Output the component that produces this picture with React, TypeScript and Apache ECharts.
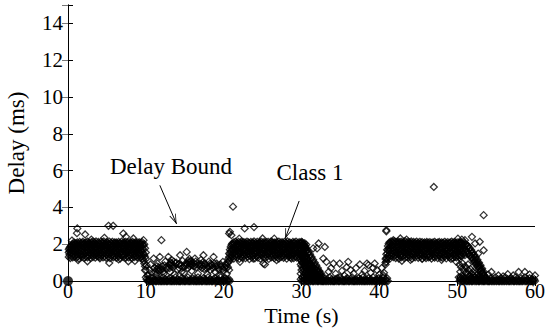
import React, { useEffect, useRef } from 'react';
import * as echarts from 'echarts';

// ---------- axes ----------
const xTickValues = [0, 10, 20, 30, 40, 50, 60];
const yTickValues = [0, 2, 4, 6, 8, 10, 12, 14];
const Y_MAX = 15;
const DELAY_BOUND = 3;

// ---------- sampled delay values (step 0.1 s) ----------
const STEP = 0.1;

const BAND_A_T0 = 0.1;
const bandAHi = [
  1.72, 1.8, 1.86, 1.92, 1.97, 2.03, 1.95, 2.08, 2.0, 2.05,
  1.98, 2.1, 2.02, 1.94, 2.12, 2.04, 1.97, 2.07, 2.13, 2.0,
  2.06, 1.95, 2.1, 2.01, 2.14, 1.99, 2.08, 2.03, 1.94, 2.11,
  2.05, 2.14, 1.98, 2.09, 2.02, 2.15, 2.0, 1.96, 2.12, 2.06,
  2.01, 2.13, 1.97, 2.1, 2.04, 2.15, 1.99, 2.07, 1.95, 2.11,
  2.06, 2.0, 2.14, 1.97, 2.09, 2.03, 2.13, 1.96, 2.05, 2.1,
  2.0, 2.1, 2.04, 1.96, 2.12, 2.02, 2.08, 1.99, 2.14, 2.05,
  1.97, 2.09, 2.02, 2.13, 1.95, 2.07, 2.11, 2.0, 2.04, 1.96,
  2.1, 2.03, 2.12, 1.97, 2.07, 2.0, 2.11, 2.04, 1.94, 2.09,
  2.02, 2.1, 1.96, 2.05, 2.12, 1.98, 1.92, 2.0, 1.78, 1.55,
];
const bandAMid = [
  1.55, 1.62, 1.7, 1.58, 1.75, 1.66, 1.82, 1.6, 1.77, 1.69,
  1.85, 1.63, 1.74, 1.88, 1.67, 1.8, 1.61, 1.78, 1.7, 1.86,
  1.64, 1.79, 1.9, 1.68, 1.83, 1.6, 1.76, 1.87, 1.65, 1.81,
  1.72, 1.89, 1.62, 1.77, 1.84, 1.66, 1.8, 1.7, 1.88, 1.63,
  1.78, 1.67, 1.85, 1.61, 1.74, 1.9, 1.69, 1.82, 1.64, 1.79,
  1.87, 1.62, 1.76, 1.7, 1.84, 1.65, 1.89, 1.73, 1.6, 1.81,
  1.68, 1.86, 1.63, 1.78, 1.71, 1.9, 1.66, 1.83, 1.61, 1.75,
  1.88, 1.64, 1.8, 1.69, 1.85, 1.62, 1.77, 1.72, 1.87, 1.65,
  1.82, 1.7, 1.6, 1.79, 1.67, 1.89, 1.74, 1.63, 1.84, 1.71,
  1.6, 1.8, 1.68, 1.86, 1.62, 1.75, 1.5, 1.4, 1.3, 1.2,
];
const bandALo = [
  1.3, 1.42, 1.25, 1.5, 1.36, 1.28, 1.45, 1.33, 1.55, 1.4,
  1.27, 1.48, 1.35, 1.22, 1.52, 1.38, 1.44, 1.3, 1.56, 1.41,
  1.25, 1.47, 1.33, 1.54, 1.29, 1.43, 1.37, 1.51, 1.24, 1.46,
  1.39, 1.3, 1.53, 1.42, 1.27, 1.49, 1.35, 1.55, 1.32, 1.45,
  1.23, 1.5, 1.38, 1.44, 1.28, 1.54, 1.34, 1.47, 1.26, 1.41,
  1.52, 1.31, 1.46, 1.24, 1.55, 1.37, 1.43, 1.29, 1.5, 1.35,
  1.45, 1.26, 1.53, 1.39, 1.32, 1.48, 1.22, 1.55, 1.36, 1.42,
  1.3, 1.51, 1.4, 1.25, 1.47, 1.34, 1.55, 1.28, 1.44, 1.37,
  1.49, 1.23, 1.41, 1.54, 1.3, 1.46, 1.35, 1.52, 1.27, 1.43,
  1.38, 1.5, 1.26, 1.44, 1.32, 1.2, 1.1, 0.95, 0.8, 0.6,
];

const BAND_C_T0 = 20.7;
const bandCHi = [
  1.5, 1.7, 1.85, 1.95, 2.04, 1.98, 2.1, 2.02, 2.13, 1.96,
  2.07, 2.0, 2.12, 1.95, 2.09, 2.03, 2.15, 1.98, 2.06, 2.11,
  1.97, 2.08, 2.02, 2.14, 1.99, 2.1, 2.05, 1.94, 2.12, 2.01,
  2.09, 2.04, 2.15, 1.96, 2.07, 2.0, 2.13, 2.03, 1.97, 2.1,
  2.05, 2.14, 1.99, 2.08, 2.02, 2.12, 1.95, 2.06, 2.11, 2.0,
  2.13, 1.98, 2.07, 2.03, 2.15, 1.97, 2.1, 2.01, 2.09, 2.04,
  1.96, 2.12, 2.05, 1.99, 2.14, 2.02, 2.08, 1.95, 2.11, 2.06,
  2.0, 2.13, 1.97, 2.09, 2.03, 2.15, 1.98, 2.07, 2.1, 2.01,
  2.05, 1.96, 2.12, 2.04, 2.09, 1.99, 2.14, 2.02, 2.07, 1.97,
  2.11, 2.03, 2.08, 1.95, 2.1, 2.02, 1.96, 2.05, 1.9, 1.98,
];
const bandCMid = [
  1.3, 1.45, 1.58, 1.66, 1.8, 1.7, 1.86, 1.62, 1.77, 1.88,
  1.65, 1.82, 1.7, 1.89, 1.61, 1.76, 1.84, 1.67, 1.9, 1.73,
  1.63, 1.8, 1.68, 1.87, 1.6, 1.78, 1.72, 1.85, 1.64, 1.81,
  1.9, 1.66, 1.75, 1.83, 1.62, 1.79, 1.69, 1.88, 1.64, 1.76,
  1.84, 1.61, 1.73, 1.89, 1.67, 1.8, 1.7, 1.86, 1.63, 1.78,
  1.68, 1.87, 1.6, 1.82, 1.74, 1.9, 1.65, 1.77, 1.85, 1.62,
  1.79, 1.7, 1.88, 1.64, 1.81, 1.67, 1.86, 1.61, 1.75, 1.89,
  1.66, 1.83, 1.72, 1.6, 1.8, 1.69, 1.87, 1.63, 1.78, 1.74,
  1.85, 1.62, 1.9, 1.68, 1.76, 1.83, 1.65, 1.8, 1.71, 1.88,
  1.64, 1.79, 1.7, 1.86, 1.61, 1.77, 1.82, 1.66, 1.74, 1.8,
];
const bandCLo = [
  1.05, 1.15, 1.25, 1.38, 1.3, 1.47, 1.22, 1.52, 1.35, 1.43,
  1.28, 1.55, 1.4, 1.2, 1.48, 1.33, 1.53, 1.26, 1.45, 1.37,
  1.5, 1.24, 1.42, 1.55, 1.31, 1.46, 1.19, 1.39, 1.54, 1.29,
  1.44, 1.36, 1.51, 1.23, 1.47, 1.34, 1.55, 1.27, 1.41, 1.5,
  1.21, 1.45, 1.38, 1.53, 1.3, 1.48, 1.25, 1.42, 1.55, 1.33,
  1.46, 1.2, 1.51, 1.37, 1.28, 1.49, 1.4, 1.54, 1.24, 1.43,
  1.35, 1.52, 1.29, 1.47, 1.22, 1.44, 1.55, 1.31, 1.39, 1.5,
  1.26, 1.45, 1.36, 1.53, 1.21, 1.48, 1.33, 1.41, 1.54, 1.28,
  1.43, 1.37, 1.5, 1.24, 1.46, 1.32, 1.55, 1.27, 1.4, 1.49,
  1.23, 1.44, 1.35, 1.52, 1.3, 1.47, 1.38, 1.25, 1.42, 1.35,
];

const BAND_E_T0 = 40.8;
const bandEHi = [
  1.2, 1.45, 1.7, 1.9, 2.02, 2.1, 2.05, 2.15, 1.98, 2.12,
  2.06, 2.16, 2.0, 2.13, 2.08, 1.97, 2.15, 2.04, 2.11, 2.0,
  2.14, 2.07, 1.99, 2.12, 2.05, 2.16, 2.01, 2.09, 1.96, 2.13,
  2.04, 2.1, 2.0, 2.15, 2.06, 1.98, 2.12, 2.03, 2.09, 1.97,
  2.14, 2.02, 2.08, 2.0, 2.13, 1.96, 2.07, 2.11, 1.99, 2.05,
  2.1, 1.97, 2.06, 2.12, 2.0, 2.08, 1.95, 2.11, 2.03, 2.07,
  1.98, 2.1, 2.02, 2.13, 1.96, 2.06, 2.01, 2.09, 1.95, 2.12,
  2.04, 1.99, 2.1, 2.03, 2.08, 1.96, 2.13, 2.0, 2.07, 2.02,
  2.11, 1.97, 2.05, 2.1, 1.99, 2.14, 2.03, 2.08, 1.98, 2.12,
  2.05, 2.0, 2.1, 1.96, 2.07, 2.03, 2.1, 2.0,
];
const bandEMid = [
  1.0, 1.25, 1.5, 1.66, 1.78, 1.65, 1.84, 1.72, 1.9, 1.63,
  1.8, 1.69, 1.87, 1.61, 1.76, 1.85, 1.67, 1.9, 1.73, 1.62,
  1.82, 1.7, 1.88, 1.64, 1.79, 1.6, 1.86, 1.74, 1.68, 1.83,
  1.62, 1.89, 1.71, 1.77, 1.65, 1.84, 1.6, 1.8, 1.73, 1.87,
  1.66, 1.78, 1.9, 1.63, 1.75, 1.85, 1.69, 1.81, 1.61, 1.88,
  1.72, 1.64, 1.83, 1.76, 1.9, 1.67, 1.79, 1.62, 1.86, 1.7,
  1.8, 1.65, 1.88, 1.74, 1.61, 1.84, 1.69, 1.9, 1.63, 1.77,
  1.85, 1.71, 1.66, 1.82, 1.6, 1.87, 1.75, 1.68, 1.83, 1.64,
  1.89, 1.72, 1.78, 1.62, 1.86, 1.7, 1.8, 1.65, 1.84, 1.73,
  1.67, 1.88, 1.61, 1.79, 1.75, 1.85, 1.7, 1.8,
];
const bandELo = [
  0.9, 1.05, 1.2, 1.35, 1.28, 1.44, 1.23, 1.5, 1.36, 1.47,
  1.3, 1.55, 1.4, 1.25, 1.52, 1.34, 1.46, 1.22, 1.53, 1.39,
  1.29, 1.48, 1.35, 1.55, 1.24, 1.43, 1.51, 1.32, 1.45, 1.27,
  1.54, 1.38, 1.3, 1.49, 1.21, 1.44, 1.36, 1.53, 1.28, 1.47,
  1.4, 1.55, 1.26, 1.42, 1.5, 1.33, 1.45, 1.23, 1.52, 1.37,
  1.31, 1.48, 1.25, 1.54, 1.4, 1.29, 1.46, 1.35, 1.55, 1.22,
  1.43, 1.5, 1.33, 1.27, 1.49, 1.38, 1.53, 1.24, 1.44, 1.36,
  1.51, 1.3, 1.47, 1.26, 1.55, 1.41, 1.32, 1.48, 1.23, 1.45,
  1.37, 1.52, 1.29, 1.46, 1.34, 1.54, 1.25, 1.42, 1.5, 1.31,
  1.44, 1.28, 1.53, 1.36, 1.47, 1.3, 1.4, 1.35,
];

// near-zero delays in the idle periods
const ZERO_B_T0 = 10.0;
const zeroB = [
  0.2, 0.1, 0, 0, 0.1, 0, 0, 0.2, 0, 0,
  0, 0.1, 0, 0, 0, 0.15, 0, 0, 0.1, 0,
  0, 0, 0.2, 0, 0, 0.1, 0, 0, 0, 0.1,
  0, 0.15, 0, 0, 0, 0.1, 0, 0, 0.2, 0,
  0, 0.1, 0, 0, 0, 0, 0.15, 0, 0.1, 0,
  0, 0, 0.1, 0, 0.2, 0, 0, 0, 0.1, 0,
  0.15, 0, 0, 0.1, 0, 0, 0, 0.2, 0, 0,
  0.1, 0, 0, 0, 0.15, 0, 0.1, 0, 0, 0,
  0.2, 0, 0, 0.1, 0, 0, 0, 0.1, 0, 0.15,
  0, 0, 0, 0.1, 0, 0, 0.2, 0, 0, 0.1,
  0, 0, 0.15, 0, 0.1, 0, 0, 0.1, 0,
];
const ZERO_D_T0 = 29.9;
const zeroD = [
  0.1, 0, 0.2, 0, 0, 0.1, 0, 0.15, 0, 0,
  0, 0.2, 0, 0, 0.1, 0, 0, 0, 0.15, 0,
  0.1, 0, 0, 0, 0.2, 0, 0.1, 0, 0, 0,
  0, 0.15, 0, 0, 0.1, 0, 0, 0.2, 0, 0,
  0.1, 0, 0, 0, 0, 0.1, 0, 0.15, 0, 0,
  0, 0.2, 0, 0.1, 0, 0, 0, 0, 0.1, 0,
  0.15, 0, 0, 0, 0.1, 0, 0.2, 0, 0, 0,
  0, 0.1, 0, 0, 0.15, 0, 0, 0.1, 0, 0,
  0.2, 0, 0, 0, 0.1, 0, 0, 0.15, 0, 0,
  0.1, 0, 0, 0.2, 0, 0, 0, 0.1, 0, 0,
  0.15, 0, 0, 0.1, 0, 0, 0.2, 0, 0, 0.1,
  0, 0.15, 0,
];
const ZERO_F_T0 = 50.2;
const zeroF = [
  0.2, 0, 0.1, 0, 0.15, 0, 0, 0.1, 0, 0.2,
  0, 0, 0.1, 0, 0, 0.15, 0, 0, 0, 0.1,
  0, 0.2, 0, 0, 0.1, 0, 0, 0, 0.15, 0,
  0.1, 0, 0, 0, 0.2, 0, 0.1, 0, 0, 0,
  0, 0.15, 0, 0, 0.1, 0, 0, 0.2, 0, 0,
  0.1, 0, 0, 0, 0.15, 0, 0, 0.1, 0, 0,
  0.2, 0, 0, 0.1, 0, 0, 0, 0.15, 0, 0.1,
  0, 0, 0, 0.2, 0, 0, 0.1, 0, 0, 0,
  0.15, 0, 0, 0.1, 0, 0.2, 0, 0, 0.1, 0,
  0, 0.15, 0, 0, 0.1, 0, 0, 0.1, 0,
];

// decay after the second burst (t = 29.9 .. 32.6)
const WEDGE_CD_T0 = 29.9;
const wedgeCD1 = [2.05, 1.92, 2.0, 1.84, 1.9, 1.76, 1.8, 1.62, 1.7, 1.52, 1.58, 1.38, 1.45, 1.25, 1.3, 1.08, 1.15, 0.92, 1.0, 0.78, 0.85, 0.62, 0.7, 0.5, 0.55, 0.38, 0.42, 0.25];
const wedgeCD2 = [1.5, 1.3, 1.62, 1.2, 1.45, 1.1, 1.35, 1.0, 1.25, 0.95, 1.1, 0.85, 0.98, 0.7, 0.88, 0.62, 0.75, 0.55, 0.68, 0.45, 0.58, 0.35, 0.48, 0.3, 0.38, 0.2, 0.3, 0.15];
const wedgeCD3 = [0.9, 0.6, 1.0, 0.5, 0.8, 0.4, 0.7, 0.55, 0.3, 0.65, 0.45, 0.25, 0.5, 0.35, 0.2, 0.42, 0.3, 0.15, 0.35, 0.22, 0.1, 0.28, 0.15, 0.2, 0.1, 0.18, 0.05, 0.1];
const wedgeCD4 = [0.4, 1.1, 0.2, 0.95, 0.3, 0.85, 0.15, 0.75, 0.6, 0.2, 0.8, 0.55, 0.3, 0.6, 0.45, 0.25, 0.5, 0.35, 0.2, 0.4, 0.3, 0.12, 0.25, 0.1, 0.2, 0.08, 0.15, 0.05];
const wedgeCD5 = [1.2, 0.8, 1.4, 0.65, 1.15, 0.95, 0.5, 1.05, 0.85, 0.4, 0.7, 0.95, 0.6, 0.35, 0.55, 0.7, 0.4, 0.25, 0.45, 0.3, 0.2, 0.35, 0.15, 0.25, 0.1, 0.15, 0.05, 0.08];

// decay after the third burst (t = 50.3 .. 53.6)
const WEDGE_EF_T0 = 50.3;
const wedgeEF1 = [2.05, 1.92, 2.1, 1.98, 2.04, 1.9, 2.08, 1.95, 2.0, 1.98, 1.88, 1.9, 1.75, 1.8, 1.62, 1.68, 1.5, 1.55, 1.38, 1.42, 1.25, 1.3, 1.1, 1.15, 0.95, 1.0, 0.8, 0.85, 0.62, 0.68, 0.45, 0.5, 0.3, 0.18];
const wedgeEF2 = [1.6, 1.45, 1.75, 1.35, 1.65, 1.5, 1.8, 1.4, 1.7, 1.55, 1.62, 1.48, 1.5, 1.38, 1.42, 1.28, 1.3, 1.15, 1.2, 1.02, 1.08, 0.9, 0.95, 0.78, 0.82, 0.65, 0.7, 0.52, 0.55, 0.4, 0.42, 0.28, 0.3, 0.15];
const wedgeEF3 = [0.9, 0.5, 0.75, 0.3, 0.95, 0.6, 0.2, 0.8, 0.45, 0.7, 0.35, 0.9, 0.55, 0.25, 0.65, 0.4, 0.15, 0.5, 0.3, 0.2, 0.4, 0.1, 0.3, 0.15, 0.25, 0.05, 0.2, 0.1, 0.15, 0.05, 0.12, 0.08, 0.05, 0.1];

// isolated samples [time (s), delay (ms)]
const scatterA: number[][] = [
  [0.5, 2.2], [1.15, 2.6], [1.2, 2.86], [1.3, 1.13], [2.2, 2.53], [2.5, 1.07], [3.0, 2.25],
  [4.1, 1.3], [4.67, 2.35], [5.2, 3.0], [5.3, 0.98], [5.8, 3.0], [6.5, 1.17], [7.1, 2.58],
  [7.45, 2.4], [7.75, 1.07], [8.4, 2.31], [8.6, 1.09], [9.7, 2.22], [9.9, 0.58], [10.1, 0.85], [10.2, 0.3],
];
const scatterB: number[][] = [
  [10.3, 0.3], [10.5, 0.6], [10.6, 0.9], [10.8, 0.45], [11.0, 1.22], [11.1, 0.7], [11.3, 0.35], [11.4, 0.8],
  [11.5, 0.95], [11.6, 0.6], [11.7, 0.55], [11.8, 1.31], [12.0, 2.22], [12.1, 0.8], [12.2, 0.5], [12.3, 0.4],
  [12.5, 1.05], [12.6, 0.75], [12.7, 0.65], [12.9, 1.31], [13.0, 0.9], [13.1, 0.5], [13.2, 1.0], [13.3, 1.15],
  [13.4, 0.8], [13.5, 0.75], [13.7, 0.35], [13.8, 0.95], [13.9, 1.0], [14.1, 0.6], [14.2, 0.9], [14.4, 1.4],
  [14.5, 0.85], [14.6, 0.5], [14.7, 1.1], [14.9, 0.45], [15.0, 0.8], [15.1, 0.95], [15.25, 1.58], [15.4, 0.7],
  [15.5, 1.0], [15.6, 1.2], [15.7, 0.9], [15.8, 1.05], [15.9, 0.55], [16.1, 1.0], [16.2, 0.8], [16.3, 1.22],
  [16.5, 0.75], [16.7, 0.4], [16.8, 0.85], [16.9, 0.95], [17.1, 1.15], [17.2, 0.7], [17.4, 1.4], [17.5, 0.65],
  [17.6, 0.95], [17.7, 0.9], [17.9, 0.35], [18.0, 0.75], [18.1, 1.05], [18.3, 0.6], [18.4, 0.9], [18.5, 0.85],
  [18.7, 1.31], [18.9, 0.5], [19.0, 0.8], [19.1, 0.95], [19.3, 0.7], [19.5, 0.3], [19.6, 0.9], [19.7, 0.8],
  [19.9, 1.04], [20.0, 0.55], [20.2, 0.9], [20.3, 0.7], [20.4, 0.4], [20.5, 1.0], [20.6, 1.2], [20.7, 0.6],
];
const scatterB2: number[][] = [
  [11.2, 0.5], [11.45, 0.65], [11.65, 0.75], [11.9, 0.6], [12.15, 0.65], [12.4, 0.85], [13.05, 0.7],
  [13.15, 0.85], [13.25, 0.95], [13.45, 0.9], [13.6, 1.05], [14.3, 0.7], [14.35, 0.95], [14.8, 0.75],
  [15.15, 0.85], [15.35, 0.9], [15.45, 1.1], [15.65, 0.8], [15.75, 1.1], [15.85, 0.95], [16.0, 0.85],
  [16.4, 1.05], [16.45, 0.9], [17.0, 0.8], [17.15, 0.9], [17.3, 1.0], [17.45, 0.8], [17.8, 0.7],
  [18.2, 0.8], [18.25, 0.95], [18.6, 0.7], [18.8, 0.95], [19.2, 0.85], [19.4, 0.6], [19.8, 0.65],
  [20.1, 0.75], [20.35, 0.85], [20.55, 0.75],
];
const scatterC: number[][] = [
  [20.7, 2.58], [20.8, 2.67], [21.0, 2.49], [21.2, 4.04], [22.0, 2.3], [22.1, 1.04], [22.7, 2.86],
  [23.8, 1.22], [23.9, 2.93], [25.0, 2.31], [25.1, 0.95], [25.3, 0.9], [26.5, 2.3], [26.8, 1.13],
  [28.7, 1.22], [30.0, 2.13], [31.5, 1.77], [32.0, 1.77], [32.2, 2.04],
];
const scatterD: number[][] = [
  [32.8, 1.22], [33.0, 1.85], [33.2, 1.04], [33.5, 0.5], [33.8, 0.7], [34.1, 0.95], [34.4, 0.4], [34.9, 0.95],
  [35.2, 0.55], [35.5, 0.3], [35.8, 0.75], [36.0, 1.04], [36.3, 0.6], [36.7, 0.4], [37.0, 0.7], [37.5, 0.9],
  [37.8, 0.35], [38.1, 0.55], [38.4, 0.95], [38.6, 0.86], [38.9, 0.45], [39.2, 0.7], [39.4, 0.95], [39.7, 0.6],
  [40.0, 0.35], [40.3, 0.7], [40.5, 0.31], [40.6, 0.45], [40.9, 2.7],
];
const scatterE: number[][] = [
  [40.9, 2.76], [41.8, 2.22], [42.7, 2.31], [42.9, 1.1], [43.5, 2.25], [44.0, 1.15], [45.5, 1.2],
  [46.5, 1.31], [47.0, 5.11], [48.0, 1.15], [49.2, 1.2], [49.9, 1.04], [50.1, 2.3], [50.4, 0.2],
  [50.6, 2.25], [51.0, 2.22], [51.9, 2.4], [52.3, 2.04], [52.7, 1.49], [52.9, 2.13], [53.4, 1.67], [53.4, 3.58],
];
const scatterF: number[][] = [
  [54.0, 0.35], [54.4, 0.49], [55.3, 0.3], [55.9, 0.25], [56.5, 0.37], [57.2, 0.3], [57.9, 0.49],
  [58.7, 0.49], [59.3, 0.35], [60, 0.3],
];
const originSamples: number[][] = [[0, 0]];

// annotation arrows, in data coordinates [time, delay]
const boundArrow = { from: [11.8, 5.2], to: [13.95, 3.1] };
const classArrow = { from: [29.7, 4.35], to: [27.9, 2.3] };

const FONT = 'Liberation Serif';

const toPoints = (t0: number, dt: number, ys: number[]) =>
  ys.map((y, i) => [Math.round((t0 + i * dt) * 100) / 100, y]);

const CHEVRON = 'path://M5,0L5.01,0L5,0.01Z M5,12L10,24L8.9,24L5,15L1.1,24L0,24Z';

export default function App() {
  const ref = useRef<HTMLDivElement>(null);

  useEffect(() => {
    if (!ref.current) return;
    const chart = echarts.init(ref.current, undefined, { renderer: 'svg' });

    const delayPoints = [
      ...toPoints(BAND_A_T0, STEP, bandAHi),
      ...toPoints(BAND_A_T0, STEP, bandAMid),
      ...toPoints(BAND_A_T0, STEP, bandALo),
      ...toPoints(BAND_C_T0, STEP, bandCHi),
      ...toPoints(BAND_C_T0, STEP, bandCMid),
      ...toPoints(BAND_C_T0, STEP, bandCLo),
      ...toPoints(BAND_E_T0, STEP, bandEHi),
      ...toPoints(BAND_E_T0, STEP, bandEMid),
      ...toPoints(BAND_E_T0, STEP, bandELo),
      ...toPoints(ZERO_B_T0, STEP, zeroB),
      ...toPoints(ZERO_D_T0, STEP, zeroD),
      ...toPoints(ZERO_F_T0, STEP, zeroF),
      ...toPoints(WEDGE_CD_T0, STEP, wedgeCD1),
      ...toPoints(WEDGE_CD_T0, STEP, wedgeCD2),
      ...toPoints(WEDGE_CD_T0, STEP, wedgeCD3),
      ...toPoints(WEDGE_CD_T0, STEP, wedgeCD4),
      ...toPoints(WEDGE_CD_T0, STEP, wedgeCD5),
      ...toPoints(WEDGE_EF_T0, STEP, wedgeEF1),
      ...toPoints(WEDGE_EF_T0, STEP, wedgeEF2),
      ...toPoints(WEDGE_EF_T0, STEP, wedgeEF3),
      ...scatterA,
      ...scatterB,
      ...scatterB2,
      ...scatterC,
      ...scatterD,
      ...scatterE,
      ...scatterF,
    ];

    const arrowEnd = { symbol: CHEVRON, symbolSize: [7, 20] };
    const nameStyle = { color: '#000', fontFamily: FONT, fontSize: 22, fontWeight: 'normal', lineHeight: 20 };

    chart.setOption({
      animation: false,
      backgroundColor: '#fff',
      textStyle: { fontFamily: FONT, color: '#000' },
      grid: {
        left: 68,
        top: 5,
        width: 467,
        height: 276,
        containLabel: false,
        outerBoundsMode: 'none',
      },
      xAxis: [
        {
          type: 'value',
          min: xTickValues[0],
          max: xTickValues[xTickValues.length - 1],
          interval: xTickValues[1] - xTickValues[0],
          position: 'bottom',
          name: 'Time (s)',
          nameLocation: 'middle',
          nameGap: 24,
          nameMoveOverlap: false,
          nameTextStyle: nameStyle,
          axisLine: { show: true, lineStyle: { color: '#000', width: 1 } },
          axisTick: { show: true, inside: true, length: 5, lineStyle: { color: '#000' } },
          axisLabel: {
            show: true,
            color: '#000',
            fontFamily: FONT,
            fontSize: 20,
            lineHeight: 16,
            margin: 1.5,
          },
          splitLine: { show: false },
        },
        {
          type: 'value',
          min: xTickValues[0],
          max: xTickValues[xTickValues.length - 1],
          interval: xTickValues[1] - xTickValues[0],
          position: 'top',
          axisLine: { show: true, lineStyle: { color: '#000', width: 1 } },
          axisTick: { show: true, inside: true, length: 5, lineStyle: { color: '#000' } },
          axisLabel: { show: false },
          splitLine: { show: false },
        },
      ],
      yAxis: [
        {
          type: 'value',
          min: 0,
          max: Y_MAX,
          interval: yTickValues[1] - yTickValues[0],
          position: 'left',
          name: 'Delay (ms)',
          nameLocation: 'middle',
          nameGap: 40,
          nameMoveOverlap: false,
          nameTextStyle: { ...nameStyle, fontSize: 23, lineHeight: 23 },
          axisLine: { show: true, lineStyle: { color: '#000', width: 1 } },
          axisTick: { show: true, inside: true, length: 5, lineStyle: { color: '#000' } },
          axisLabel: {
            show: true,
            color: '#000',
            fontFamily: FONT,
            fontSize: 21,
            lineHeight: 18,
            margin: 5,
            formatter: (v: number) => (yTickValues.includes(v) ? String(v) : ''),
          },
          splitLine: { show: false },
        },
        {
          type: 'value',
          min: 0,
          max: Y_MAX,
          interval: yTickValues[1] - yTickValues[0],
          position: 'right',
          axisLine: { show: true, lineStyle: { color: '#000', width: 1 } },
          axisTick: { show: true, inside: true, length: 6, lineStyle: { color: '#777' } },
          axisLabel: { show: false },
          splitLine: { show: false },
        },
      ],
      graphic: [
        {
          type: 'text',
          x: 171,
          y: 166,
          style: {
            text: 'Delay Bound',
            fill: '#000',
            font: `23px ${FONT}`,
            textAlign: 'center',
            textVerticalAlign: 'middle',
            align: 'center',
            verticalAlign: 'middle',
          },
        },
        {
          type: 'text',
          x: 310,
          y: 172,
          style: {
            text: 'Class 1',
            fill: '#000',
            font: `23px ${FONT}`,
            textAlign: 'center',
            textVerticalAlign: 'middle',
            align: 'center',
            verticalAlign: 'middle',
          },
        },
      ],
      series: [
        {
          name: 'Class 1',
          type: 'scatter',
          xAxisIndex: 0,
          yAxisIndex: 0,
          symbol: 'diamond',
          symbolSize: 7,
          itemStyle: { color: 'rgba(0,0,0,0)', borderColor: '#000', borderWidth: 1.25 },
          emphasis: { disabled: true },
          data: delayPoints,
          markLine: {
            silent: true,
            animation: false,
            symbol: ['none', 'none'],
            label: { show: false },
            lineStyle: { color: '#000', width: 1, type: 'solid' },
            emphasis: { disabled: true },
            data: [
              { yAxis: DELAY_BOUND },
              [
                { coord: boundArrow.from, symbol: 'none' },
                { coord: boundArrow.to, ...arrowEnd },
              ],
              [
                { coord: classArrow.from, symbol: 'none' },
                { coord: classArrow.to, ...arrowEnd },
              ],
            ],
          },
        },
        {
          name: 'Start',
          type: 'scatter',
          symbol: 'circle',
          symbolSize: 10,
          itemStyle: { color: '#000' },
          emphasis: { disabled: true },
          data: originSamples,
        },
      ],
    });

    return () => chart.dispose();
  }, []);

  return (
    <div
      ref={ref}
      style={{ position: 'fixed', left: 0, top: 0, width: 554, height: 330, background: '#fff' }}
    />
  );
}
